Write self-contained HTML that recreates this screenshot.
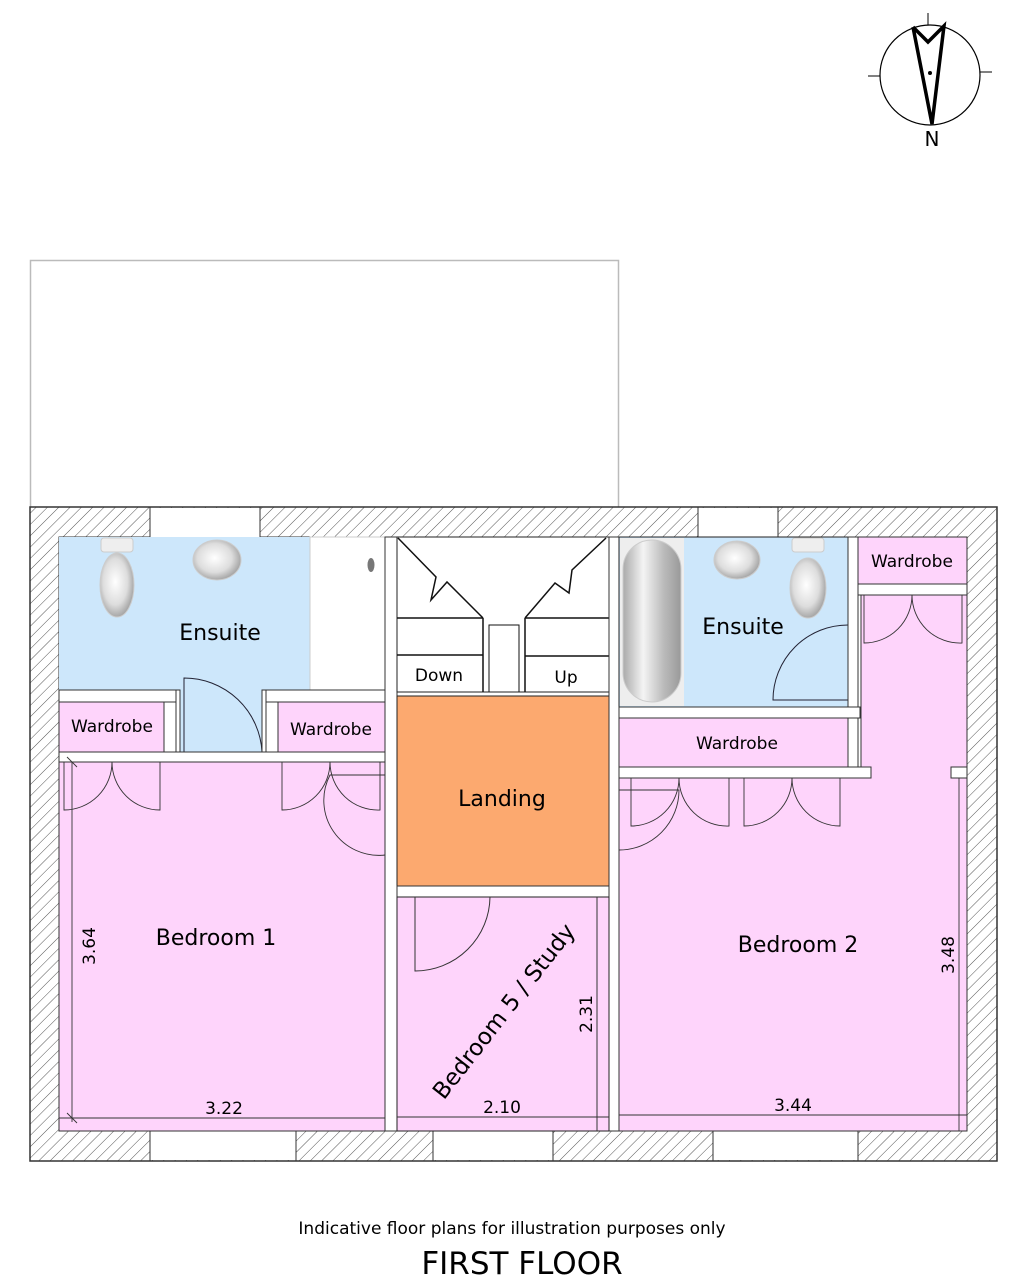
<!DOCTYPE html>
<html><head><meta charset="utf-8"><style>
html,body{margin:0;padding:0;background:#fff;}
svg{display:block;font-family:"DejaVu Sans","Liberation Sans",sans-serif;}
</style></head><body>
<svg width="1030" height="1280" viewBox="0 0 1030 1280" xmlns="http://www.w3.org/2000/svg">
<defs>
<pattern id="h" patternUnits="userSpaceOnUse" width="8" height="8" patternTransform="rotate(45)">
<rect width="8" height="8" fill="#fff"/><line x1="0" y1="0" x2="0" y2="8" stroke="#555" stroke-width="1"/>
</pattern>
<radialGradient id="g1" cx="0.45" cy="0.45" r="0.6"><stop offset="0" stop-color="#fff"/><stop offset="0.6" stop-color="#ddd"/><stop offset="1" stop-color="#999"/></radialGradient>
<linearGradient id="bath" x1="0" x2="1"><stop offset="0" stop-color="#aaa"/><stop offset="0.35" stop-color="#f4f4f4"/><stop offset="0.7" stop-color="#bbb"/><stop offset="1" stop-color="#999"/></linearGradient>
</defs>
<g stroke="#000" fill="none">
<circle cx="930" cy="75" r="50" stroke-width="1.2"/>
<line x1="928" y1="13" x2="928" y2="25"/><line x1="868" y1="76" x2="880" y2="76"/><line x1="980" y1="72" x2="992" y2="72"/>
<polyline points="913,27 928,42 944,26 932,124 913,27" stroke-width="3.5" stroke-linejoin="miter"/>
</g>
<circle cx="930" cy="73" r="2" fill="#000"/>
<text x="932" y="146" font-size="20" text-anchor="middle">N</text>
<rect x="30.5" y="260.5" width="588" height="247" fill="none" stroke="#bbb" stroke-width="1.5"/>
<rect x="30" y="507" width="967" height="654" fill="url(#h)" stroke="#333" stroke-width="1.5"/>
<rect x="59" y="537" width="908" height="594" fill="#fff" stroke="#333"/>
<g fill="#fff"><rect x="150" y="508" width="110" height="29"/><rect x="698" y="508" width="80" height="29"/>
<rect x="150" y="1131" width="146" height="29"/><rect x="433" y="1131" width="120" height="29"/><rect x="713" y="1131" width="145" height="29"/></g>
<g stroke="#333" stroke-width="1"><line x1="150" y1="507" x2="150" y2="537"/><line x1="260" y1="507" x2="260" y2="537"/><line x1="698" y1="507" x2="698" y2="537"/><line x1="778" y1="507" x2="778" y2="537"/>
<line x1="150" y1="1131" x2="150" y2="1161"/><line x1="296" y1="1131" x2="296" y2="1161"/><line x1="433" y1="1131" x2="433" y2="1161"/><line x1="553" y1="1131" x2="553" y2="1161"/><line x1="713" y1="1131" x2="713" y2="1161"/><line x1="858" y1="1131" x2="858" y2="1161"/></g>
<rect x="59" y="537" width="251" height="153" fill="#cde7fb"/>
<rect x="180" y="690" width="82" height="62" fill="#cde7fb"/>
<rect x="310" y="537" width="75" height="153" fill="#fff" stroke="#ccc"/>
<ellipse cx="371" cy="565" rx="3.5" ry="7" fill="#777"/>
<rect x="101" y="538" width="32" height="14" rx="3" fill="#eee" stroke="#ccc"/>
<ellipse cx="117" cy="585" rx="17" ry="32" fill="url(#g1)" stroke="#ccc"/>
<ellipse cx="217" cy="560" rx="24" ry="20" fill="url(#g1)" stroke="#ccc"/>
<text x="220" y="640" font-size="22" text-anchor="middle">Ensuite</text>
<path d="M184,752 V678 A78,78 0 0 1 262,752" fill="none" stroke="#223" stroke-width="1"/>
<line x1="184" y1="690" x2="184" y2="752" stroke="#223"/>
<g fill="#fff" stroke="#333"><rect x="59" y="690" width="118" height="12"/><rect x="266" y="690" width="119" height="12"/>
<rect x="176" y="690" width="4" height="62"/><rect x="262" y="690" width="4" height="62"/>
<rect x="59" y="752" width="326" height="10"/><rect x="385" y="537" width="12" height="594"/></g>
<rect x="59" y="702" width="105" height="50" fill="#fed4fb" stroke="#333"/>
<text x="112" y="732" font-size="17" text-anchor="middle">Wardrobe</text>
<rect x="278" y="702" width="107" height="50" fill="#fed4fb" stroke="#333"/>
<text x="331" y="735" font-size="17" text-anchor="middle">Wardrobe</text>
<rect x="59" y="762" width="326" height="369" fill="#fed4fb" stroke="#333"/>
<g fill="none" stroke="#333" stroke-width="0.9">
<path d="M64,762 V810 A48,48 0 0 0 112,762"/><path d="M160,762 V810 A48,48 0 0 1 112,762"/>
<path d="M282,762 V810 A48,48 0 0 0 330,762"/><path d="M380,762 V810 A48,48 0 0 1 330,762"/>
<path d="M385,775 H330 A55,55 0 0 0 385,855"/>
<line x1="72" y1="762" x2="72" y2="1122"/><line x1="59" y1="1118" x2="385" y2="1118"/>
<line x1="67" y1="757" x2="77" y2="767"/><line x1="67" y1="1113" x2="77" y2="1123"/>
</g>
<text x="216" y="945" font-size="22" text-anchor="middle">Bedroom 1</text>
<text x="224" y="1114" font-size="17" text-anchor="middle">3.22</text>
<text transform="translate(95,946) rotate(-90)" font-size="17" text-anchor="middle">3.64</text>
<rect x="397" y="537" width="212" height="155" fill="#fff" stroke="#222"/>
<g fill="none" stroke="#111" stroke-width="1.5">
<polyline points="398,538 436,577 431,600 447,582 483,618"/>
<polyline points="606,538 572,570 569,593 555,583 525,618"/>
<line x1="397" y1="618" x2="483" y2="618"/><line x1="525" y1="618" x2="609" y2="618"/>
<line x1="397" y1="655" x2="483" y2="655"/><line x1="525" y1="656" x2="609" y2="656"/>
<line x1="483" y1="618" x2="483" y2="692"/><line x1="525" y1="618" x2="525" y2="692"/>
<polyline points="489,692 489,625 519,625 519,692" stroke-width="1"/>
</g>
<text x="439" y="681" font-size="17" text-anchor="middle">Down</text>
<text x="566" y="683" font-size="17" text-anchor="middle">Up</text>
<rect x="397" y="696" width="212" height="190" fill="#fca96f" stroke="#222"/>
<text x="502" y="806" font-size="22" text-anchor="middle">Landing</text>
<rect x="397" y="886" width="212" height="11" fill="#fff" stroke="#333"/>
<rect x="609" y="537" width="10" height="594" fill="#fff" stroke="#333"/>
<rect x="397" y="897" width="212" height="234" fill="#fed4fb" stroke="#222"/>
<path d="M415,897 V971 A75,75 0 0 0 490,897" fill="none" stroke="#333"/>
<line x1="597" y1="897" x2="597" y2="1131" stroke="#333"/>
<line x1="397" y1="1117" x2="609" y2="1117" stroke="#333"/>
<text transform="translate(510,1016) rotate(-52)" font-size="23" text-anchor="middle">Bedroom 5 / Study</text>
<text x="502" y="1113" font-size="17" text-anchor="middle">2.10</text>
<text transform="translate(592,1014) rotate(-90)" font-size="17" text-anchor="middle">2.31</text>
<rect x="619" y="537" width="229" height="170" fill="#cde7fb" stroke="#222"/>
<rect x="620" y="538" width="64" height="168" fill="#eee"/>
<rect x="623" y="540" width="58" height="162" rx="29" fill="url(#bath)" stroke="#ccc"/>
<ellipse cx="737" cy="560" rx="23" ry="19" fill="url(#g1)" stroke="#ccc"/>
<rect x="792" y="538" width="32" height="14" rx="3" fill="#eee" stroke="#ccc"/>
<ellipse cx="808" cy="588" rx="18" ry="30" fill="url(#g1)" stroke="#ccc"/>
<text x="743" y="634" font-size="22" text-anchor="middle">Ensuite</text>
<path d="M848,625 A75,75 0 0 0 773,700 H848" fill="none" stroke="#223"/>
<g fill="#fff" stroke="#333"><rect x="848" y="537" width="10" height="241"/><rect x="619" y="707" width="241" height="11"/>
<rect x="619" y="767" width="252" height="11"/><rect x="951" y="767" width="16" height="11"/><rect x="858" y="584" width="109" height="11"/></g>
<rect x="858" y="537" width="109" height="47" fill="#fed4fb" stroke="#333"/>
<text x="912" y="567" font-size="17" text-anchor="middle">Wardrobe</text>
<rect x="619" y="718" width="229" height="49" fill="#fed4fb" stroke="#333"/>
<text x="737" y="749" font-size="17" text-anchor="middle">Wardrobe</text>
<path d="M861,595 H967 V1131 H619 V778 H871 V767 H861 Z" fill="#fed4fb" stroke="#333"/>
<rect x="951" y="767" width="16" height="11" fill="#fff" stroke="#333"/>
<g fill="none" stroke="#333" stroke-width="0.9">
<path d="M864,595 V643 A48,48 0 0 0 912,595"/><path d="M962,595 V643 A48,48 0 0 1 912,595"/>
<path d="M631,778 V826 A48,48 0 0 0 679,778"/><path d="M729,778 V826 A48,48 0 0 1 679,778"/>
<path d="M744,778 V826 A48,48 0 0 0 792,778"/><path d="M840,778 V826 A48,48 0 0 1 792,778"/>
<path d="M619,790 H679 A60,60 0 0 1 619,850"/>
<line x1="959" y1="778" x2="959" y2="1131"/><line x1="619" y1="1115" x2="967" y2="1115"/>
</g>
<text x="798" y="952" font-size="22" text-anchor="middle">Bedroom 2</text>
<text x="793" y="1111" font-size="17" text-anchor="middle">3.44</text>
<text transform="translate(954,955) rotate(-90)" font-size="17" text-anchor="middle">3.48</text>
<text x="512" y="1234" font-size="17" text-anchor="middle">Indicative floor plans for illustration purposes only</text>
<text x="522" y="1274" font-size="31" text-anchor="middle">FIRST FLOOR</text>
</svg>
</body></html>
